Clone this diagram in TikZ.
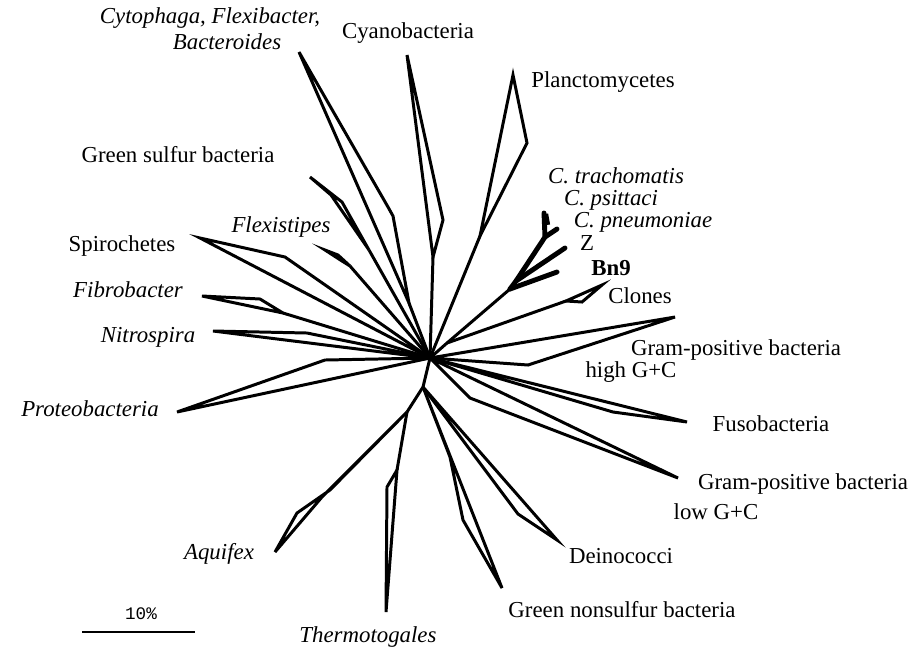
\documentclass[tikz,border=0pt]{standalone}
\usepackage{fontspec}
\setmainfont{Liberation Serif}
\setmonofont{Liberation Mono}

\tikzset{
  branch/.style={line width=1.7pt, line join=miter},
  heavy/.style={line width=2.8pt, line cap=round},
  taxon/.style={inner sep=0pt, font=\fontsize{13}{15}\selectfont},
  genus/.style={inner sep=0pt, font=\fontsize{13}{15}\selectfont\itshape},
}

\begin{document}
\begin{tikzpicture}[x=0.02cm, y=-0.02cm]
\useasboundingbox (0,0) rectangle (912,647);
% Junctions of the tree
\coordinate (hub) at (430,358);
\coordinate (low) at (423,387);
\coordinate (thaq) at (407,412);
\coordinate (clo) at (447,343);
\coordinate (chA) at (510,289);
\coordinate (chB) at (516,281);
\coordinate (chC) at (545,237);
% Upper wedges
\coordinate (cfb) at (409,303);
\draw[branch] (hub) -- (cfb);
\draw[branch] (cfb) -- (299,52) -- (388,207) -- (393,216) -- cycle;
\coordinate (cya) at (433,257);
\draw[branch] (hub) -- (cya);
\draw[branch] (cya) -- (407,55) -- (443,220) -- cycle;
\coordinate (pla) at (480,236);
\draw[branch] (hub) -- (pla);
\draw[branch] (pla) -- (513,75) -- (527,143) -- cycle;
\coordinate (gsb) at (369,250);
\draw[branch] (hub) -- (gsb);
\draw[branch] (gsb) -- (342,202) -- (310,177) -- (331,195) -- cycle;
\coordinate (fls) at (350,266);
\draw[branch] (hub) -- (fls);
\draw[branch] (fls) -- (338,255) -- (325,250) -- (342,261) -- cycle;
% Left wedges
\draw[branch] (hub) -- (285,257) -- (200,238) -- cycle;
\coordinate (fib) at (283,313);
\draw[branch] (hub) -- (fib);
\draw[branch] (fib) -- (260,299) -- (202,296) -- cycle;
\draw[branch] (hub) -- (307,333) -- (213,331) -- cycle;
\draw[branch] (hub) -- (325,360) -- (177,412) -- cycle;
% Chlamydial lineage and clones
\draw[branch] (hub) -- (clo) -- (chA);
\draw[heavy] (chA) -- (chB) -- (chC) -- (544,213);
\draw[heavy] (chC) -- (557,229);
\draw[line width=3.6pt] (545,214) -- (547,225);
\draw[heavy] (chB) -- (565,248);
\draw[heavy] (chA) -- (557,272);
\draw[branch] (clo) -- (566,301);
\draw[branch] (566,301) -- (602,285) -- (582,302) -- cycle;
% Right wedges
\draw[branch] (hub) -- (675,317) -- (528,365) -- cycle;
\draw[branch] (hub) -- (687,422) -- (613,412) -- cycle;
\draw[branch] (hub) -- (678,478) -- (470,398) -- cycle;
% Lower subtree
\draw[branch] (hub) -- (low) -- (thaq);
\draw[branch] (low) -- (557,540) -- (518,514) -- cycle;
\draw[branch] (low) -- (502,588) -- (463,520) -- (450,457) -- cycle;
\draw[branch] (thaq) -- (397,470);
\draw[branch] (397,470) -- (386,612) -- (387,487) -- cycle;
\draw[branch] (thaq) -- (322,497) -- (275,552) -- (297,513) -- (330,490) -- cycle;
% Taxon labels
\node[genus] (cyto) at (210,18) {Cytophaga, Flexibacter,};
\node[genus] (bact) at (227,42) {Bacteroides};
\node[taxon] (cyano) at (408,33) {Cyanobacteria};
\node[taxon] (planc) at (603,82) {Planctomycetes};
\node[taxon] (gsulf) at (178,155) {Green sulfur bacteria};
\node[genus] (ctrach) at (616,176) {C. trachomatis};
\node[genus] (cpsit) at (611,200) {C. psittaci};
\node[genus] (cpneu) at (643,222) {C. pneumoniae};
\node[taxon] (zz) at (587,243) {Z};
\node[taxon, font=\fontsize{13}{15}\selectfont\bfseries] (bn) at (611,268) {Bn9};
\node[taxon] (clones) at (640,296) {Clones};
\node[taxon] (gphigh) at (736,350) {Gram-positive bacteria};
\node[taxon] (hgc) at (631,372) {high G+C};
\node[taxon] (fuso) at (771,424) {Fusobacteria};
\node[taxon] (gplow) at (803,484) {Gram-positive bacteria};
\node[taxon] (lgc) at (716,512) {low G+C};
\node[taxon] (deino) at (621,556) {Deinococci};
\node[taxon] (gnsb) at (622,610) {Green nonsulfur bacteria};
\node[genus] (thermo) at (368,637) {Thermotogales};
\node[genus] (aqui) at (219,554) {Aquifex};
\node[genus] (proteo) at (90,409) {Proteobacteria};
\node[genus] (nitro) at (148,337) {Nitrospira};
\node[genus] (fibro) at (128,290) {Fibrobacter};
\node[taxon] (spiro) at (122,246) {Spirochetes};
\node[genus] (flexi) at (281,227) {Flexistipes};
% Scale bar
\coordinate (sbl) at (82,632);
\coordinate (sbr) at (195,632);
\draw[line width=1.2pt] (sbl) -- (sbr);
\node[inner sep=0pt, font=\fontsize{10}{12}\selectfont\ttfamily] (scale) at (141,614) {10\%};
\end{tikzpicture}
\end{document}
